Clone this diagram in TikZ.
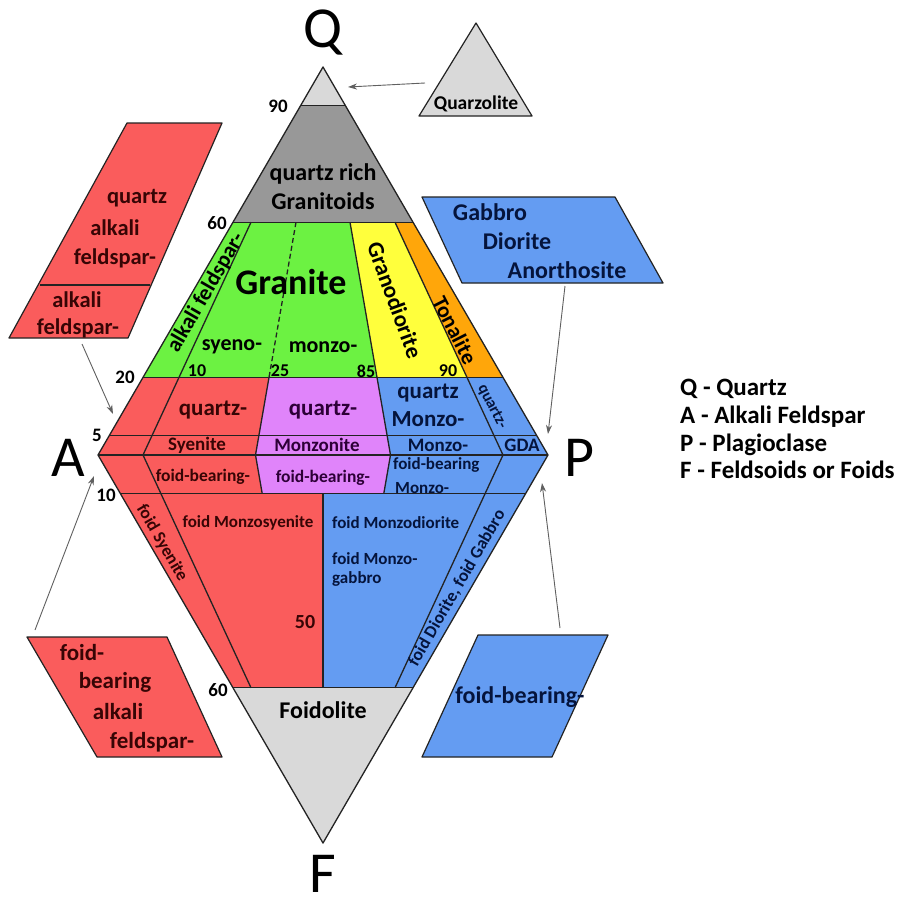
\documentclass[tikz,border=0pt]{standalone}
\usepackage{fontspec}
\setmainfont{Carlito}
\usetikzlibrary{arrows.meta}
\definecolor{cred}{RGB}{250,92,92}
\definecolor{cpink}{RGB}{224,132,250}
\definecolor{cblue}{RGB}{100,156,242}
\definecolor{cgreen}{RGB}{108,242,66}
\definecolor{cyellow}{RGB}{255,255,60}
\definecolor{corange}{RGB}{255,166,10}
\definecolor{cdgray}{RGB}{152,152,152}
\definecolor{clgray}{RGB}{217,217,217}
\definecolor{lc}{RGB}{35,35,35}
\definecolor{tred}{RGB}{55,5,5}
\definecolor{tblue}{RGB}{5,20,60}
\definecolor{tpink}{RGB}{45,0,55}
\newcommand\fsz[1]{\fontsize{#1}{#1}\selectfont}
\tikzset{
  tx/.style={inner sep=0pt, font=\bfseries\fsz{#1}},
  big/.style={inner sep=0pt, font=\fsz{58}},
  ln/.style={draw=lc, line width=1.3pt, line join=round},
  arr/.style={draw=gray!75!black, line width=0.9pt, -{Stealth[length=9pt,width=6pt]}},
  box/.style={draw=lc, line width=1.2pt, line join=round},
}
\begin{document}
\begin{tikzpicture}[x=1pt,y=-1pt]
\useasboundingbox (0,0) rectangle (904,899);
\fill[white] (0,0) rectangle (904,899);
% vertices
\coordinate (Q) at (323,67);
\coordinate (A) at (98,455);
\coordinate (P) at (548,455);
\coordinate (F) at (323,843);
% region fills
\fill[clgray] (Q) -- (345.5,105.8) -- (300.5,105.8) -- cycle;
\fill[cdgray] (300.5,105.8) -- (345.5,105.8) -- (413,222.2) -- (233,222.2) -- cycle;
\fill[cgreen] (233,222.2) -- (350,222.2) -- (377,377.4) -- (143,377.4) -- cycle;
\fill[cyellow] (350,222.2) -- (395,222.2) -- (467,377.4) -- (377,377.4) -- cycle;
\fill[corange] (395,222.2) -- (413,222.2) -- (503,377.4) -- (467,377.4) -- cycle;
\fill[cred] (143,377.4) -- (269,377.4) -- (255.5,455) -- (A) -- cycle;
\fill[cpink] (269,377.4) -- (377,377.4) -- (390.5,455) -- (255.5,455) -- cycle;
\fill[cblue] (377,377.4) -- (503,377.4) -- (P) -- (390.5,455) -- cycle;
\fill[cred] (A) -- (255.5,455) -- (262.25,493.8) -- (120.5,493.8) -- cycle;
\fill[cpink] (255.5,455) -- (390.5,455) -- (383.75,493.8) -- (262.25,493.8) -- cycle;
\fill[cblue] (390.5,455) -- (P) -- (525.5,493.8) -- (383.75,493.8) -- cycle;
\fill[cred] (120.5,493.8) -- (323,493.8) -- (323,687.8) -- (233,687.8) -- cycle;
\fill[cblue] (323,493.8) -- (525.5,493.8) -- (413,687.8) -- (323,687.8) -- cycle;
\fill[clgray] (233,687.8) -- (413,687.8) -- (F) -- cycle;
% lines
\draw[ln] (Q) -- (P) -- (F) -- (A) -- cycle;
\draw[ln] (300.5,105.8) -- (345.5,105.8);
\draw[ln] (233,222.2) -- (413,222.2);
\draw[ln] (143,377.4) -- (503,377.4);
\draw[ln] (109.25,435.6) -- (536.75,435.6);
\draw[ln] (A) -- (P);
\draw[ln] (120.5,493.8) -- (525.5,493.8);
\draw[ln] (233,687.8) -- (413,687.8);
\draw[ln] (251,222.2) -- (143,455) -- (251,687.8);
\draw[ln, dash pattern=on 5pt off 3pt] (296,222.2) -- (269,377.4);
\draw[ln] (269,377.4) -- (255.5,455) -- (262.25,493.8);
\draw[ln] (350,222.2) -- (390.5,455) -- (383.75,493.8);
\draw[ln] (395,222.2) -- (503,455) -- (395,687.8);
\draw[ln] (323,493.8) -- (323,687.8);
% corner letters
\node[big] (lQ) at (323,33) {Q};
\node[big] (lA) at (68,458) {A};
\node[big] (lP) at (579,458) {P};
\node[big] (lF) at (323,874) {F};
% numbers
\node[tx=19] (n90) at (278,106) {90};
\node[tx=19] (n60) at (217,223) {60};
\node[tx=19] (n20) at (125,377) {20};
\node[tx=19] (n5) at (97,435) {5};
\node[tx=19] (n10) at (106,495) {10};
\node[tx=19] (n60b) at (218,690) {60};
\node[tx=18] (g10) at (197,371) {10};
\node[tx=18] (g25) at (280,371) {25};
\node[tx=18] (g85) at (366,371) {85};
\node[tx=18] (g90) at (448,371) {90};
\node[tx=20, text=tred] (n50) at (305,622) {50};
% field labels
\node[tx=24] (qr1) at (323,174) {quartz rich};
\node[tx=24] (qr2) at (323,201) {Granitoids};
\node[tx=36] (gr) at (291,282) {Granite};
\node[tx=22, rotate=60] (afg) at (206,293) {alkali feldspar-};
\node[tx=22] (sy) at (232,347) {syeno-};
\node[tx=22] (mz) at (323,347) {monzo-};
\node[tx=23, rotate=-70] (gd) at (395,300) {Granodiorite};
\node[tx=22, rotate=-63] (to) at (455,330) {Tonalite};
\node[tx=23, text=tred] (qs) at (213,410) {quartz-};
\node[tx=23, text=tpink] (qm) at (323,410) {quartz-};
\node[tx=23, text=tblue] (qd1) at (428,393) {quartz};
\node[tx=23, text=tblue] (qd2) at (428,419) {Monzo-};
\node[tx=16, text=tblue, rotate=-63] (qdg) at (492,407) {quartz-};
\node[tx=19, text=tred] (sye) at (197,445) {Syenite};
\node[tx=19, text=tpink] (mon) at (317,445) {Monzonite};
\node[tx=19, text=tblue] (mzd) at (438,445) {Monzo-};
\node[tx=19, text=tblue] (gda) at (522,445) {GDA};
\node[tx=17.5, text=tred] (fb1) at (203,477) {foid-bearing-};
\node[tx=17.5, text=tpink] (fb2) at (323,478) {foid-bearing-};
\node[tx=17, text=tblue, anchor=west] (fb3) at (393,465) {foid-bearing};
\node[tx=17, text=tblue, anchor=west] (fb4) at (395,488) {Monzo-};
\node[tx=17.5, text=tred, rotate=-60] (fsy) at (162,543) {foid Syenite};
\node[tx=17, text=tred] (fms) at (248,523) {foid Monzosyenite};
\node[tx=17, text=tblue, anchor=west] (fmd) at (332,523) {foid Monzodiorite};
\node[tx=17, text=tblue, anchor=west] (fmg1) at (332,559) {foid Monzo-};
\node[tx=17, text=tblue, anchor=west] (fmg2) at (332,579) {gabbro};
\node[tx=17.5, text=tblue, rotate=60] (fdg) at (457,588) {foid Diorite, foid Gabbro};
\node[tx=24] (fo) at (323,710) {Foidolite};
% side boxes
\fill[clgray] (476,23) -- (532,116) -- (419,116) -- cycle;
\draw[box] (476,23) -- (532,116) -- (419,116) -- cycle;
\node[tx=19.5] (qz) at (476,104) {Quarzolite};
\fill[cred] (127,123) -- (222,123) -- (128,338) -- (9,338) -- cycle;
\draw[box] (127,123) -- (222,123) -- (128,338) -- (9,338) -- cycle;
\draw[box] (40,285) -- (150,285);
\node[tx=22.5, text=tred] (b1a) at (137,198) {quartz};
\node[tx=22.5, text=tred] (b1b) at (115,228) {alkali};
\node[tx=22.5, text=tred] (b1c) at (115,258) {feldspar-};
\node[tx=22.5, text=tred] (b1d) at (77,300) {alkali};
\node[tx=22.5, text=tred] (b1e) at (78,328) {feldspar-};
\fill[cblue] (422,197) -- (615,197) -- (663,283) -- (462,283) -- cycle;
\draw[box] (422,197) -- (615,197) -- (663,283) -- (462,283) -- cycle;
\node[tx=24, text=tblue] (b2a) at (490,212) {Gabbro};
\node[tx=24, text=tblue] (b2b) at (517,241) {Diorite};
\node[tx=24, text=tblue] (b2c) at (567,270) {Anorthosite};
\fill[cred] (27,637) -- (167,637) -- (222,757) -- (97,757) -- cycle;
\draw[box] (27,637) -- (167,637) -- (222,757) -- (97,757) -- cycle;
\node[tx=23, text=tred] (b3a) at (82,653) {foid-};
\node[tx=23, text=tred] (b3b) at (115,682) {bearing};
\node[tx=23, text=tred] (b3c) at (118,712) {alkali};
\node[tx=23, text=tred] (b3d) at (152,742) {feldspar-};
\fill[cblue] (478,635) -- (608,635) -- (552,757) -- (422,757) -- cycle;
\draw[box] (478,635) -- (608,635) -- (552,757) -- (422,757) -- cycle;
\node[tx=24, text=tblue] (b4a) at (520,697) {foid-bearing-};
% arrows
\coordinate (s1) at (425,83);  \coordinate (e1) at (348,87);
\coordinate (s2) at (82,344);  \coordinate (e2) at (113,414);
\coordinate (s3) at (35,630);  \coordinate (e3) at (94,476);
\coordinate (s4) at (565,286); \coordinate (e4) at (548,434);
\coordinate (s5) at (560,628); \coordinate (e5) at (542,483);
\draw[arr] (s1) -- (e1);
\draw[arr] (s2) -- (e2);
\draw[arr] (s3) -- (e3);
\draw[arr] (s4) -- (e4);
\draw[arr] (s5) -- (e5);
% legend
\node[tx=25, anchor=base west] (L1) at (680,395) {Q - Quartz};
\node[tx=25, anchor=base west] (L2) at (680,423) {A - Alkali Feldspar};
\node[tx=25, anchor=base west] (L3) at (680,451) {P - Plagioclase};
\node[tx=25, anchor=base west] (L4) at (680,478) {F - Feldsoids or Foids};
\end{tikzpicture}
\end{document}
